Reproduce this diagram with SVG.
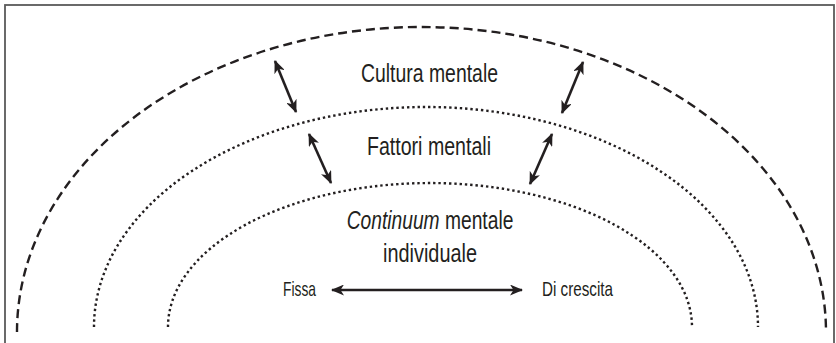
<svg xmlns="http://www.w3.org/2000/svg" width="836" height="343" viewBox="0 0 836 343">
<style>
.frame{fill:none;stroke:#5a5a5a;stroke-width:1.8}
.arc{fill:none;stroke:#231f20}
.dash{stroke-width:2.4;stroke-dasharray:9 5}
.dot{stroke-width:2.4;stroke-dasharray:2.4 2.9}
.arr{fill:none;stroke:#231f20;stroke-width:2.6;marker-start:url(#head);marker-end:url(#head)}
text{font-family:"Liberation Sans Narrow","Liberation Sans",Arial,sans-serif;fill:#231f20}
.big{font-size:26px}
.small{font-size:21px}
.mid{text-anchor:middle}
</style>
<defs>
<marker id="head" viewBox="0 0 13 11" refX="12" refY="5.5" markerWidth="13" markerHeight="11" markerUnits="userSpaceOnUse" orient="auto-start-reverse">
<path d="M0,0 L13,5.5 L0,11 L3.5,5.5 z" fill="#231f20"/>
</marker>
</defs>
<rect class="frame" x="5" y="5" width="829" height="345"/>
<g id="arcs">
<path id="outer" class="arc dash" d="M17,332 A404.5,305 0 0 1 826,332"/>
<path id="middle" class="arc dot" d="M94,327 A332,220 0 0 1 758,327"/>
<path id="inner" class="arc dot" d="M168,327 A262,144 0 0 1 692,327"/>
</g>
<g id="connectors">
<line class="arr" x1="275" y1="61" x2="296" y2="112"/>
<line class="arr" x1="583" y1="62" x2="562" y2="113"/>
<line class="arr" x1="309" y1="134" x2="331" y2="183"/>
<line class="arr" x1="552" y1="134" x2="530" y2="184"/>
<line class="arr" x1="332" y1="290" x2="522" y2="290"/>
</g>
<g id="cultura"><text class="big mid" x="429.5" y="82" textLength="137" lengthAdjust="spacingAndGlyphs">Cultura mentale</text></g>
<g id="fattori"><text class="big mid" x="429" y="155" textLength="124" lengthAdjust="spacingAndGlyphs">Fattori mentali</text></g>
<g id="continuum">
<text class="big mid" transform="translate(430,229) scale(0.74,1)" x="0" y="0"><tspan font-style="italic">Continuum</tspan> mentale</text>
<text class="big mid" x="430" y="262" textLength="94" lengthAdjust="spacingAndGlyphs">individuale</text>
</g>
<g id="fissa"><text class="small" x="283" y="296" textLength="33" lengthAdjust="spacingAndGlyphs">Fissa</text></g>
<g id="crescita"><text class="small" x="542" y="296" textLength="71" lengthAdjust="spacingAndGlyphs">Di crescita</text></g>
</svg>
